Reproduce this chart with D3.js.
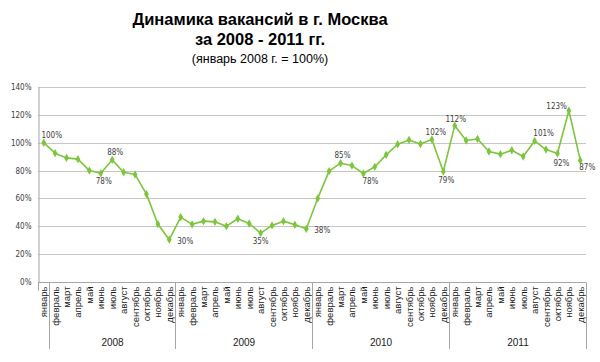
<!DOCTYPE html>
<html>
<head>
<meta charset="utf-8">
<script src="https://cdn.jsdelivr.net/npm/d3@7"></script>
<style>
  body { margin: 0; background: #fff; }
  svg { display: block; }
</style>
</head>
<body>
<script>
// значения, январь 2008 = 100%
const years = ["2008", "2009", "2010", "2011"]
const months = ["январь", "февраль", "март", "апрель", "май", "июнь", "июль",
                "август", "сентябрь", "октябрь", "ноябрь", "декабрь"]
const values2008 = [100, 92.5, 89.1, 88.2, 80.0, 78.1, 87.7, 78.8, 77.2, 63.1, 41.6, 30.4]
const values2009 = [46.6, 41.4, 43.7, 43.2, 40.1, 45.4, 42.0, 35.1, 40.6, 43.7, 41.1, 38.2]
const values2010 = [60.0, 79.6, 85.3, 83.6, 77.9, 82.7, 91.3, 98.9, 102.0, 99.1, 102.3, 79.3]
const values2011 = [112.3, 101.6, 102.7, 93.7, 91.8, 94.6, 90.1, 101.3, 95.1, 92.3, 123.1, 87.3]
const yTicks = [0, 20, 40, 60, 80, 100, 120, 140]
const labelled = [0, 5, 6, 11, 19, 23, 26, 28, 34, 35, 36, 43, 45, 46, 47]

const width = 600
const height = 362
const margin = ({ top: 87, right: 14, left: 38, bottom: 80 })

const data = [values2008, values2009, values2010, values2011].flatMap((vals, yi) =>
    vals.map((v, mi) => ({ year: years[yi], month: months[mi], value: v })))

const svg = d3.select('body').append('svg')
    .attr('width', width)
    .attr('height', height)
    .attr('viewBox', [0, 0, width, height])

const x = d3.scaleBand()
    .domain(d3.range(data.length))
    .range([margin.left, width - margin.right])

const y = d3.scaleLinear()
    .domain([0, 140])
    .range([height - margin.bottom, margin.top])

// title
const title = svg.append('g')
    .attr('text-anchor', 'middle')
    .attr('font-family', 'Liberation Sans, Arial, sans-serif')
    .attr('fill', '#000')
title.append('text').attr('x', 260).attr('y', 25)
    .attr('font-size', 16.5).attr('font-weight', 'bold')
    .text('Динамика вакансий в г. Москва')
title.append('text').attr('x', 260).attr('y', 45)
    .attr('font-size', 16.5).attr('font-weight', 'bold')
    .text('за 2008 - 2011 гг.')
title.append('text').attr('x', 260).attr('y', 63)
    .attr('font-size', 12.5)
    .text('(январь 2008 г. = 100%)')

// grid
svg.append('g')
    .selectAll('line')
    .data(yTicks.filter(d => d > 0))
    .join('line')
    .attr('x1', margin.left)
    .attr('x2', width - margin.right)
    .attr('y1', d => Math.round(y(d)) + 0.5)
    .attr('y2', d => Math.round(y(d)) + 0.5)
    .attr('stroke', '#c6c6c6')

// y axis
const yAxis = g => g
    .attr('transform', `translate(${margin.left + 0.5},0)`)
    .call(d3.axisLeft(y).tickValues(yTicks).tickSize(0).tickPadding(7).tickFormat(d => d + '%'))
    .call(g => g.select('.domain').attr('stroke', '#a6a6a6'))
    .call(g => g.selectAll('text')
        .attr('font-family', 'DejaVu Sans Condensed, DejaVu Sans, sans-serif')
        .attr('font-stretch', 'condensed')
        .attr('font-size', 8)
        .attr('fill', '#404040'))
svg.append('g').call(yAxis)

// x axis: month names + year groups
const y0 = Math.round(y(0)) + 0.5
svg.append('line')
    .attr('x1', margin.left).attr('x2', width - margin.right)
    .attr('y1', y0).attr('y2', y0)
    .attr('stroke', '#a6a6a6')
svg.append('line')
    .attr('x1', margin.left + 0.5).attr('x2', margin.left + 0.5)
    .attr('y1', y0).attr('y2', y0 + 8)
    .attr('stroke', '#a6a6a6')

svg.append('g')
    .attr('font-family', 'Liberation Sans, Arial, sans-serif')
    .attr('font-size', 9.5)
    .attr('fill', '#1a1a1a')
    .attr('text-anchor', 'end')
  .selectAll('text')
  .data(data)
  .join('text')
    .attr('transform', (d, i) => `translate(${x(i) + x.bandwidth() / 2 + 3.5},${y0 + 4}) rotate(-90)`)
    .text(d => d.month)

const bounds = [1, 12, 24, 36, 48].map(i => Math.round(x.range()[0] + i * x.step()) + 0.5)
svg.append('g')
  .selectAll('line')
  .data(bounds)
  .join('line')
    .attr('x1', d => d).attr('x2', d => d)
    .attr('y1', y0).attr('y2', 349)
    .attr('stroke', '#a6a6a6')

svg.append('g')
    .attr('font-family', 'Liberation Sans, Arial, sans-serif')
    .attr('font-size', 10)
    .attr('fill', '#1a1a1a')
    .attr('text-anchor', 'middle')
  .selectAll('text')
  .data(years)
  .join('text')
    .attr('x', (d, i) => (bounds[i] + bounds[i + 1]) / 2)
    .attr('y', 346)
    .text(d => d)

// line + markers
const green = '#7cc63c'
svg.append('path')
    .datum(data)
    .attr('fill', 'none')
    .attr('stroke', green)
    .attr('stroke-width', 1.6)
    .attr('stroke-linejoin', 'round')
    .attr('d', d3.line()
        .x((d, i) => x(i) + x.bandwidth() / 2)
        .y(d => y(d.value)))

svg.append('g')
    .attr('fill', green)
  .selectAll('path')
  .data(data)
  .join('path')
    .attr('transform', (d, i) => `translate(${x(i) + x.bandwidth() / 2},${y(d.value)})`)
    .attr('d', d3.symbol(d3.symbolDiamond, 20))

// data labels
const place = {
    0: [8, -5, 'middle'], 5: [3, 11, 'middle'], 6: [3, -5, 'middle'], 11: [8, 4, 'start'],
    19: [0, 11, 'middle'], 23: [8, 4, 'start'], 26: [2, -5, 'middle'], 28: [7, 11, 'middle'],
    34: [4, -5, 'middle'], 35: [3, 11, 'middle'], 36: [1, -4, 'middle'], 43: [9, -5, 'middle'],
    45: [4, 13, 'middle'], 46: [-2, -2, 'end'], 47: [-1, 10, 'start']
}
svg.append('g')
    .attr('font-family', 'DejaVu Sans Condensed, DejaVu Sans, sans-serif')
    .attr('font-stretch', 'condensed')
    .attr('font-size', 8)
    .attr('fill', '#404040')
  .selectAll('text')
  .data(labelled)
  .join('text')
    .attr('x', i => x(i) + x.bandwidth() / 2 + place[i][0])
    .attr('y', i => y(data[i].value) + place[i][1])
    .attr('text-anchor', i => place[i][2])
    .text(i => Math.round(data[i].value) + '%')
</script>
</body>
</html>
